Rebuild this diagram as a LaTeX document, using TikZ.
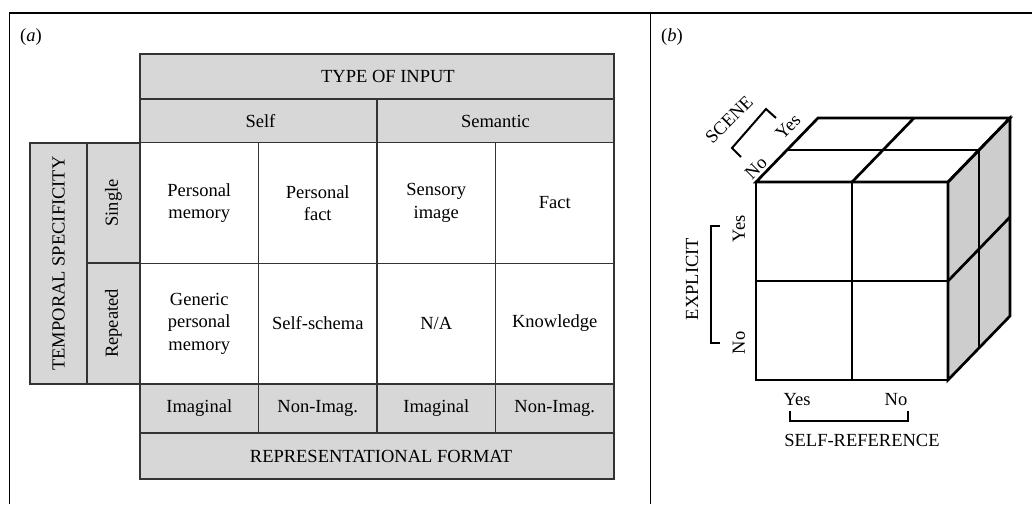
\documentclass[tikz,border=0pt]{standalone}
\usepackage{fontspec}
\setmainfont{Liberation Serif}
\definecolor{cellgray}{HTML}{D7D7D7}
\definecolor{facegray}{HTML}{CDCDCD}
\definecolor{rulegray}{HTML}{333333}
\usetikzlibrary{positioning}

\tikzset{
  labeltext/.style={font=\fontsize{18.5}{22.5}\selectfont, inner sep=0pt, align=center},
  graycell/.style={labeltext, draw=rulegray, fill=cellgray, line width=1.1pt},
  whitecell/.style={labeltext, draw=rulegray, fill=white, line width=1.1pt,
    minimum width=118.5pt, minimum height=120.5pt},
  cubeline/.style={line width=2.7pt, line join=miter},
  bracket/.style={line width=2pt}
}

\begin{document}
\begin{tikzpicture}[x=1pt, y=-1pt]
  \useasboundingbox (0,0) rectangle (1032,504);
  % Frame
  \draw[line width=1.3pt] (9.5,504) -- (9.5,13) -- (1032,13);
  \draw[line width=1.3pt] (650.5,13) -- (650.5,504);
  \node[labeltext, anchor=west] (tagA) at (20,37) {(\textit{a})};
  \node[labeltext, anchor=west] (tagB) at (661,37) {(\textit{b})};

  % (a) Headers
  \node[graycell, minimum width=474pt, minimum height=45pt] (input) at (377,76.5) {\hspace*{22pt}TYPE OF INPUT};
  \node[graycell, minimum width=237pt, minimum height=44pt] (self) at (258.5,121) {\hspace*{4pt}Self};
  \node[graycell, minimum width=237pt, minimum height=44pt] (semantic) at (495.5,121) {Semantic};
  \node[graycell, minimum width=241pt, minimum height=57pt, rotate=90] (temporal) at (58.5,263.5) {TEMPORAL SPECIFICITY};
  \node[graycell, minimum width=120pt, minimum height=53pt, rotate=90] (single) at (113.5,203) {Single};
  \node[graycell, minimum width=121pt, minimum height=53pt, rotate=90] (repeated) at (113.5,323.5) {Repeated};

  % (a) Body
  \node[whitecell] (pmem) at (199.25,203) {Personal\\memory};
  \node[whitecell] (pfact) at (317.75,203) {Personal\\fact};
  \node[whitecell] (simage) at (436.25,203) {Sensory\\image};
  \node[whitecell] (fact) at (554.75,203) {Fact};
  \node[whitecell] (gmem) at (199.25,323.5) {Generic\\personal\\memory};
  \node[whitecell] (schema) at (317.75,323.5) {Self-schema};
  \node[whitecell] (na) at (436.25,323.5) {N/A};
  \node[whitecell] (know) at (554.75,323.5) {Knowledge};

  % (a) Format rows
  \node[graycell, minimum width=118.5pt, minimum height=49pt] (imag1) at (199.25,408.5) {Imaginal};
  \node[graycell, minimum width=118.5pt, minimum height=49pt] (nonimag1) at (317.75,408.5) {Non-Imag.};
  \node[graycell, minimum width=118.5pt, minimum height=49pt] (imag2) at (436.25,408.5) {Imaginal};
  \node[graycell, minimum width=118.5pt, minimum height=49pt] (nonimag2) at (554.75,408.5) {Non-Imag.};
  \node[graycell, minimum width=474pt, minimum height=46pt] (format) at (377,456) {\hspace*{8pt}REPRESENTATIONAL FORMAT};

  % (b) Cube: right face
  \filldraw[cubeline, fill=facegray] (948,182) -- (1010,118) -- (1010,316) -- (948,380) -- cycle;
  \draw[cubeline] (979,150) -- (979,348);
  \draw[cubeline] (948,281) -- (1010,217);
  % Top face
  \draw[cubeline] (756,182) -- (818,118) -- (1010,118) -- (948,182) -- cycle;
  \draw[cubeline] (852,182) -- (914,118);
  \draw[cubeline] (787,150) -- (979,150);
  % Front face
  \draw[cubeline] (756,182) rectangle (948,380);
  \draw[cubeline] (852,182) -- (852,380);
  \draw[cubeline] (756,281) -- (948,281);

  % Scene labels
  \node[labeltext, rotate=45] (scene) at (729,120) {SCENE};
  \node[labeltext, rotate=45] (sceneyes) at (788,127) {Yes};
  \node[labeltext, rotate=45] (sceneno) at (756,168) {No};
  \draw[bracket] (741,157) -- (732,148) -- (766,109) -- (776,118);
  % Explicit labels
  \node[labeltext, rotate=90] (explicit) at (692,279) {EXPLICIT};
  \node[labeltext, rotate=90] (explyes) at (739,229) {Yes};
  \node[labeltext, rotate=90] (explno) at (739,343) {No};
  \draw[bracket] (720,226) -- (711,226) -- (711,343) -- (720,343);
  % Self-reference labels
  \node[labeltext] (selfyes) at (797,400) {Yes};
  \node[labeltext] (selfno) at (896,400) {No};
  \draw[bracket] (790,411) -- (790,421) -- (908,421) -- (908,411);
  \node[labeltext] (selfref) at (862,440) {SELF-REFERENCE};
\end{tikzpicture}
\end{document}
